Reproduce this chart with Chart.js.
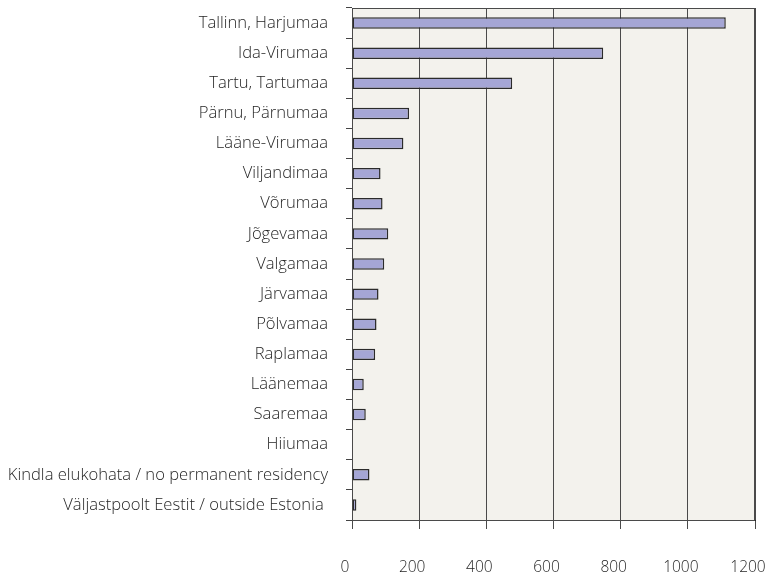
<!DOCTYPE html>
<html>
<head>
<meta charset="utf-8">
<style>
  html, body { margin: 0; padding: 0; background: #ffffff; }
  #wrap { width: 765px; height: 578px; position: relative; }
</style>
<script src="https://cdn.jsdelivr.net/npm/chart.js@4/dist/chart.umd.min.js"></script>
</head>
<body>
<div id="wrap"><canvas id="regionChart"></canvas></div>
<script>
const regions = [
  'Tallinn, Harjumaa',
  'Ida-Virumaa',
  'Tartu, Tartumaa',
  'Pärnu, Pärnumaa',
  'Lääne-Virumaa',
  'Viljandimaa',
  'Võrumaa',
  'Jõgevamaa',
  'Valgamaa',
  'Järvamaa',
  'Põlvamaa',
  'Raplamaa',
  'Läänemaa',
  'Saaremaa',
  'Hiiumaa',
  'Kindla elukohata / no permanent residency',
  'Väljastpoolt Eestit / outside Estonia ',
];
const counts = [1113, 748, 477, 170, 153, 85, 91, 108, 96, 79, 73, 69, 35, 41, 0, 52, 13];
const xTicks = [0, 200, 400, 600, 800, 1000, 1200];

const textColor = '#262626';
const lineColor = '#4a4a4a';

// plot background + frame
const plotFrame = {
  id: 'plotFrame',
  beforeDraw(chart) {
    const { ctx, chartArea: a } = chart;
    ctx.save();
    ctx.fillStyle = '#f3f2ed';
    ctx.fillRect(a.left, a.top, a.right - a.left, a.bottom - a.top);
    ctx.restore();
  },
  afterDraw(chart) {
    const { ctx, chartArea: a } = chart;
    ctx.save();
    ctx.strokeStyle = lineColor;
    ctx.lineWidth = 1;
    ctx.strokeRect(a.left + 0.5, a.top + 0.5, a.right - a.left - 1, a.bottom - a.top);
    ctx.restore();
  },
};

new Chart(document.getElementById('regionChart'), {
  type: 'bar',
  data: {
    labels: regions,
    datasets: [{
      data: counts,
      backgroundColor: '#a5a6d5',
      borderColor: '#2b2b2b',
      borderWidth: 1.5,
      borderSkipped: false,
      categoryPercentage: 0.38,
      barPercentage: 1,
    }],
  },
  options: {
    indexAxis: 'y',
    responsive: true,
    maintainAspectRatio: false,
    animation: false,
    layout: { padding: { top: 8, right: 10, left: 0, bottom: 0 } },
    plugins: {
      legend: { display: false },
      tooltip: { enabled: false },
    },
    scales: {
      x: {
        min: 0,
        max: 1200,
        afterBuildTicks: (scale) => {
          scale.ticks = xTicks.map((v) => ({ value: v }));
        },
        afterFit: (scale) => {
          scale.height = 58;
          scale.paddingLeft = 0;
          scale.paddingRight = 0;
        },
        grid: {
          color: lineColor,
          lineWidth: 1,
          tickLength: 9,
        },
        border: { display: true, color: '#222222', width: 1 },
        ticks: {
          color: textColor,
          padding: 29,
          labelOffset: -7,
          maxRotation: 0,
          callback: (v) => String(v),
          font: { family: 'Open Sans', size: 15.5, weight: '300' },
        },
      },
      y: {
        afterFit: (scale) => {
          scale.width = 352;
          scale.paddingTop = 0;
          scale.paddingBottom = 0;
        },
        grid: {
          drawOnChartArea: false,
          color: '#444444',
          tickLength: 6,
        },
        border: { display: true, color: '#222222', width: 1 },
        ticks: {
          color: textColor,
          padding: 18,
          autoSkip: false,
          font: { family: 'Open Sans', size: 16.6, weight: '300' },
        },
      },
    },
  },
  plugins: [plotFrame],
});
</script>
</body>
</html>
